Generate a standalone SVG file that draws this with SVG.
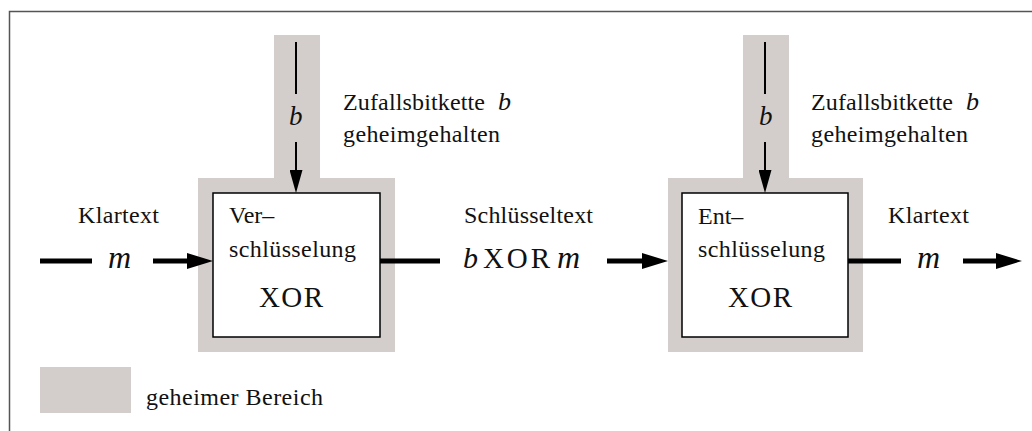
<svg xmlns="http://www.w3.org/2000/svg" width="1032" height="431" viewBox="0 0 1032 431">
  <style>
    .secret { fill: #d3cecc; }
    .box { fill: #ffffff; stroke: #000000; stroke-width: 1.5; }
    .txt { font-family: "Liberation Serif", "Times New Roman", serif; font-size: 24px; fill: #111; }
    .xor { font-family: "Liberation Serif", "Times New Roman", serif; font-size: 29px; fill: #111; }
    .math { font-family: "Liberation Serif", "Times New Roman", serif; font-style: italic; fill: #111; }
    .thick { stroke: #000; stroke-width: 5; fill: none; }
    .thin { stroke: #000; stroke-width: 2; fill: none; }
  </style>
  <defs>
    <marker id="headThick" markerUnits="userSpaceOnUse" viewBox="0 0 26 16" refX="0" refY="8" markerWidth="26" markerHeight="16" orient="auto">
      <path d="M0,0 L26,8 L0,16 z" fill="#000"/>
    </marker>
    <marker id="headThin" markerUnits="userSpaceOnUse" viewBox="0 0 23 13" refX="0" refY="6.5" markerWidth="23" markerHeight="13" orient="auto">
      <path d="M0,0 L23,6.5 L0,13 z" fill="#000"/>
    </marker>
  </defs>

  <!-- outer frame -->
  <rect x="9.5" y="11.5" width="1100" height="500" fill="none" stroke="#555" stroke-width="1.5"/>

  <!-- encryption node -->
  <g id="encrypt">
    <path class="secret" d="M274,35 H320 V178 H395 V352 H198 V178 H274 Z"/>
    <rect class="box" x="213" y="193" width="167" height="144"/>
    <text class="txt" x="229" y="223">Ver–</text>
    <text class="txt" x="229" y="257" textLength="127">schlüsselung</text>
    <text class="xor" x="259" y="307" textLength="64">XOR</text>
    <text class="math" x="289" y="125" font-size="27">b</text>
    <text class="txt" x="343" y="110" textLength="142">Zufallsbitkette</text>
    <text class="math" x="498" y="110" font-size="26">b</text>
    <text class="txt" x="343" y="142" textLength="157">geheimgehalten</text>
  </g>

  <!-- decryption node -->
  <g id="decrypt">
    <path class="secret" d="M743,35 H789 V178 H863 V352 H668 V178 H743 Z"/>
    <rect class="box" x="682" y="193" width="166" height="144"/>
    <text class="txt" x="698" y="224">Ent–</text>
    <text class="txt" x="698" y="257" textLength="127">schlüsselung</text>
    <text class="xor" x="728" y="307" textLength="64">XOR</text>
    <text class="math" x="759" y="125" font-size="27">b</text>
    <text class="txt" x="811" y="110" textLength="142">Zufallsbitkette</text>
    <text class="math" x="966" y="110" font-size="26">b</text>
    <text class="txt" x="811" y="142" textLength="157">geheimgehalten</text>
  </g>

  <!-- legend -->
  <g id="legend">
    <rect class="secret" x="40" y="367" width="91" height="46"/>
    <text class="txt" x="146" y="405" textLength="177">geheimer Bereich</text>
  </g>

  <!-- connectors -->
  <g id="connectors">
    <!-- key streams into the boxes -->
    <line class="thin" x1="296" y1="42" x2="296" y2="94"/>
    <line class="thin" x1="296" y1="142" x2="296" y2="170" marker-end="url(#headThin)"/>
    <line class="thin" x1="765" y1="42" x2="765" y2="94"/>
    <line class="thin" x1="765" y1="142" x2="765" y2="170" marker-end="url(#headThin)"/>

    <!-- plaintext in -->
    <line class="thick" x1="40" y1="261" x2="92" y2="261"/>
    <line class="thick" x1="153" y1="261" x2="187" y2="261" marker-end="url(#headThick)"/>
    <!-- ciphertext -->
    <line class="thick" x1="380" y1="261" x2="440" y2="261"/>
    <line class="thick" x1="607" y1="261" x2="642" y2="261" marker-end="url(#headThick)"/>
    <!-- plaintext out -->
    <line class="thick" x1="848" y1="261" x2="901" y2="261"/>
    <line class="thick" x1="963" y1="261" x2="996" y2="261" marker-end="url(#headThick)"/>
  </g>

  <!-- connector labels -->
  <g id="labels">
    <text class="txt" x="78" y="223" textLength="81">Klartext</text>
    <text class="math" x="108" y="268" font-size="32" textLength="26">m</text>
    <text class="txt" x="464" y="223" textLength="129">Schlüsseltext</text>
    <text class="math" x="463" y="268" font-size="30">b</text>
    <text class="xor" x="483" y="268" textLength="67">XOR</text>
    <text class="math" x="557" y="268" font-size="32" textLength="30">m</text>
    <text class="txt" x="888" y="223" textLength="81">Klartext</text>
    <text class="math" x="917" y="268" font-size="32" textLength="26">m</text>
  </g>
</svg>
